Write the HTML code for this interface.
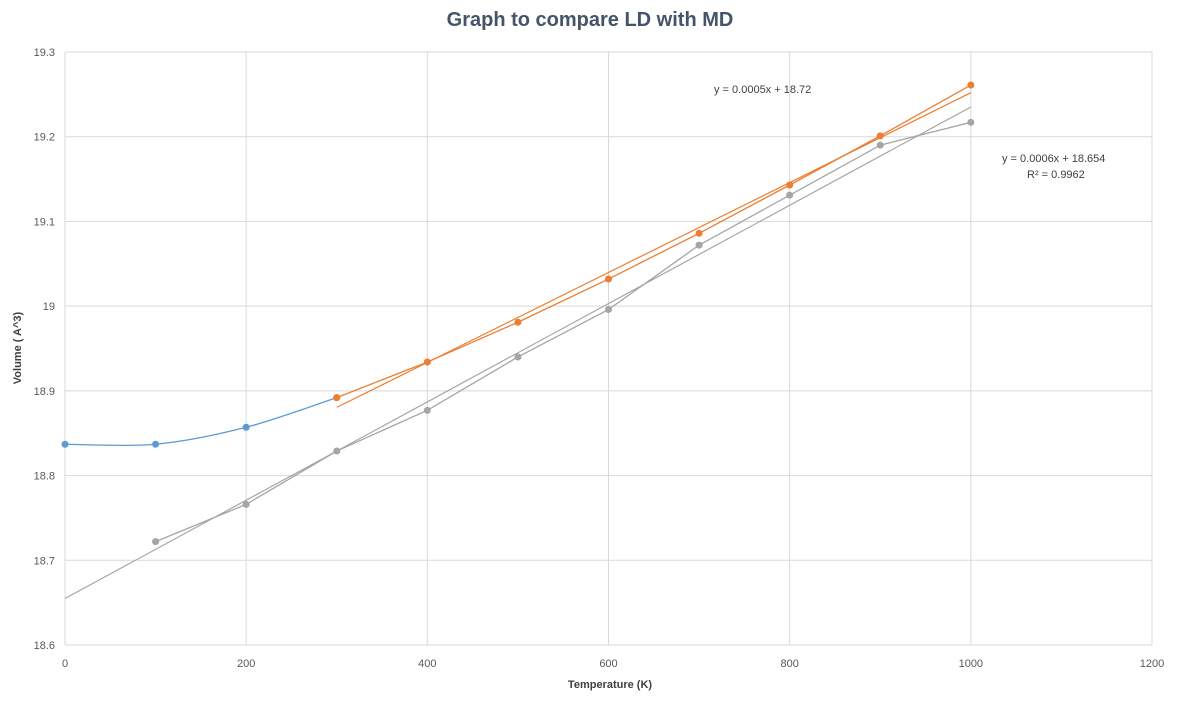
<!DOCTYPE html>
<html><head><meta charset="utf-8"><style>
body{margin:0;background:#fff;font-family:"Liberation Sans",sans-serif}
svg text{font-family:"Liberation Sans",sans-serif}
</style></head><body>
<svg id="c" width="1180" height="707" xmlns="http://www.w3.org/2000/svg">
<text x="590" y="26" text-anchor="middle" font-size="20" font-weight="bold" fill="#44546a">Graph to compare LD with MD</text>
<text x="610" y="688" text-anchor="middle" font-size="11" font-weight="bold" fill="#404040">Temperature (K)</text>
<text transform="translate(21,348) rotate(-90)" text-anchor="middle" font-size="11" font-weight="bold" fill="#404040">Volume ( A^3)</text>
<text x="714" y="93" font-size="11" fill="#404040">y = 0.0005x + 18.72</text>
<text x="1002" y="162" font-size="11" fill="#404040">y = 0.0006x + 18.654</text>
<text x="1027" y="178" font-size="11" fill="#404040">R² = 0.9962</text>
</svg>
<script>
const xTicks=[0,200,400,600,800,1000,1200];
const yTicks=[18.6,18.7,18.8,18.9,19,19.1,19.2,19.3];
const blueX=[0,100,200,300];
const blueY=[18.837,18.837,18.857,18.892];
const orangeX=[300,400,500,600,700,800,900,1000];
const orangeY=[18.892,18.934,18.981,19.032,19.086,19.143,19.201,19.261];
const grayX=[100,200,300,400,500,600,700,800,900,1000];
const grayY=[18.722,18.766,18.829,18.877,18.940,18.996,19.072,19.131,19.190,19.217];
const NS="http://www.w3.org/2000/svg",svg=document.getElementById('c');
const L=65,R=1152,T=52,B=645;
const sx=v=>L+(v-0)/1200*(R-L), sy=v=>B-(v-18.6)/0.7*(B-T);
function mk(t,a){const e=document.createElementNS(NS,t);for(const k in a)e.setAttribute(k,a[k]);svg.appendChild(e);return e;}
xTicks.forEach(v=>{const l=mk('line',{x1:sx(v),x2:sx(v),y1:T,y2:B,stroke:'#d9d9d9'});


const t=mk('text',{x:sx(v),y:B+22,'text-anchor':'middle','font-size':11,fill:'#595959'});t.textContent=v;

});
yTicks.forEach(v=>{const l=mk('line',{x1:L,x2:R,y1:sy(v),y2:sy(v),stroke:'#d9d9d9'});


const t=mk('text',{x:L-10,y:sy(v)+4,'text-anchor':'end','font-size':11,fill:'#595959'});t.textContent=String(v);

});
function fit(xs,ys){const n=xs.length;let mx=0,my=0;xs.forEach((x,i)=>{mx+=x;my+=ys[i];});mx/=n;my/=n;let a=0,b=0;xs.forEach((x,i)=>{a+=(x-mx)*(ys[i]-my);b+=(x-mx)**2;});const s=a/b;return [s,my-s*mx];}
function trend(xs,ys,x0,x1,col,name){const [s,c]=fit(xs,ys);const l=mk('line',{x1:sx(x0),y1:sy(s*x0+c),x2:sx(x1),y2:sy(s*x1+c),stroke:col,'stroke-width':1.2});

}
trend(grayX,grayY,0,1000,'#a5a5a5','gray-trendline');
trend(orangeX,orangeY,300,1000,'#ed7d31','orange-trendline');
function smooth(xs,ys){const p=xs.map((x,i)=>[sx(x),sy(ys[i])]);let d='M'+p[0];for(let i=0;i<p.length-1;i++){const p0=p[i-1]||p[i],p1=p[i],p2=p[i+1],p3=p[i+2]||p2;const c1=[p1[0]+(p2[0]-p0[0])/6,p1[1]+(p2[1]-p0[1])/6],c2=[p2[0]-(p3[0]-p1[0])/6,p2[1]-(p3[1]-p1[1])/6];d+=' C'+c1+' '+c2+' '+p2;}return d;}
function series(xs,ys,col,name,sm){const d=sm?smooth(xs,ys):'M'+xs.map((x,i)=>sx(x)+','+sy(ys[i])).join(' L');
const p=mk('path',{d:d,fill:'none',stroke:col,'stroke-width':1.3});


xs.forEach((x,i)=>{const c=mk('circle',{cx:sx(x),cy:sy(ys[i]),r:3.5,fill:col});

});}
series(grayX,grayY,'#a5a5a5','gray-series',false);
series(blueX,blueY,'#5b9bd5','blue-series',true);
series(orangeX,orangeY,'#ed7d31','orange-series',false);
</script>
</body></html>
